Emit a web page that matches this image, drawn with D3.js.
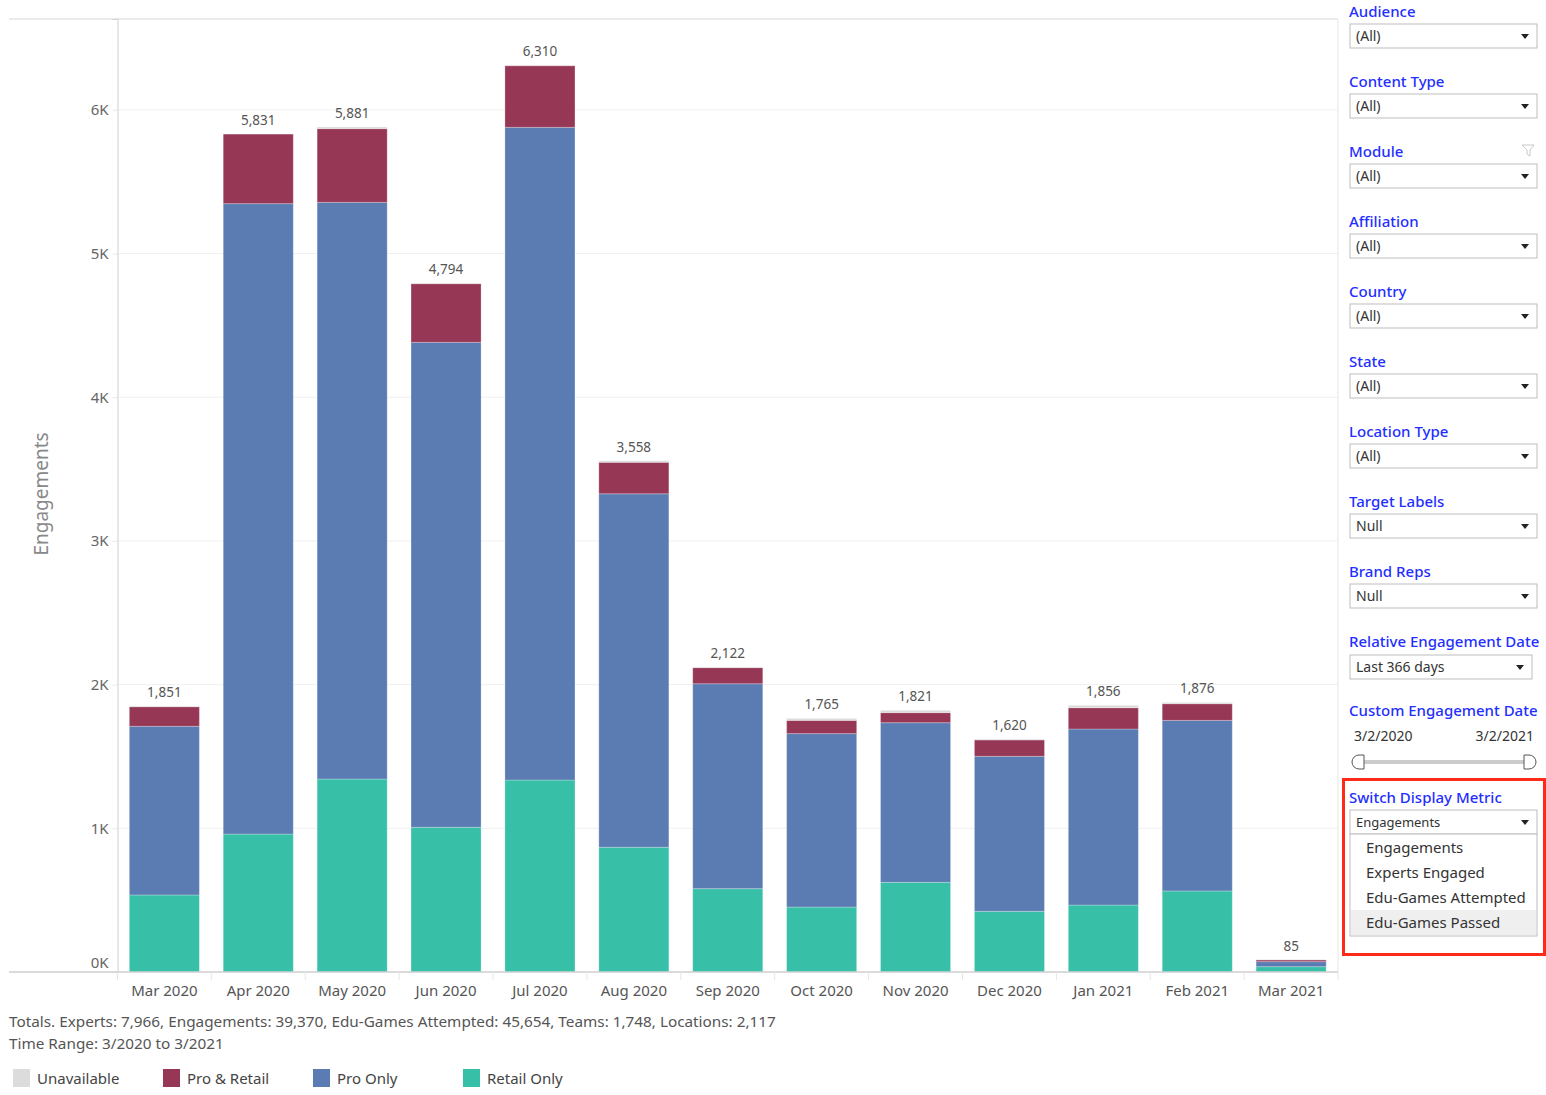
<!DOCTYPE html>
<html>
<head>
<meta charset="utf-8">
<script src="https://cdn.jsdelivr.net/npm/d3@7"></script>
<style>
    body { margin: 0; background: #fff; font-family: "Noto Sans", "Lato", sans-serif; }
    #chart { width: 1546px; height: 1095px; }
</style>
</head>
<body>
<div id="chart"></div>
<script>
// months on the x axis
const months = ["Mar 2020", "Apr 2020", "May 2020", "Jun 2020", "Jul 2020", "Aug 2020", "Sep 2020",
    "Oct 2020", "Nov 2020", "Dec 2020", "Jan 2021", "Feb 2021", "Mar 2021"];

// stacked series (bottom to top)
const retailOnly  = [536, 960, 1343, 1007, 1336, 868, 580, 452, 624, 422, 466, 564, 37];
const proOnly     = [1174, 4387, 4013, 3375, 4542, 2460, 1426, 1207, 1111, 1079, 1225, 1187, 35];
const proRetail   = [136, 484, 513, 408, 429, 219, 112, 92, 70, 114, 148, 116, 12];
const unavailable = [5, 0, 12, 4, 3, 11, 4, 14, 16, 5, 17, 9, 1];

const seriesNames = ["Retail Only", "Pro Only", "Pro & Retail", "Unavailable"];
const legendNames = ["Unavailable", "Pro & Retail", "Pro Only", "Retail Only"];
const yTicks = [0, 1000, 2000, 3000, 4000, 5000, 6000];

// filter panel
const filters = [
    {label: "Audience", value: "(All)"},
    {label: "Content Type", value: "(All)"},
    {label: "Module", value: "(All)"},
    {label: "Affiliation", value: "(All)"},
    {label: "Country", value: "(All)"},
    {label: "State", value: "(All)"},
    {label: "Location Type", value: "(All)"},
    {label: "Target Labels", value: "Null"},
    {label: "Brand Reps", value: "Null"}
];
const metricOptions = ["Engagements", "Experts Engaged", "Edu-Games Attempted", "Edu-Games Passed"];

const colors = {
    "Retail Only": "#38bfa7",
    "Pro Only": "#5b7cb2",
    "Pro & Retail": "#973756",
    "Unavailable": "#dcdcdc"
};
const labelBlue = "#1f2fff";

const svg = d3.select("#chart").append("svg")
    .attr("width", 1546)
    .attr("height", 1095);

// ---- chart ----
const plot = {left: 117.5, right: 1338, top: 19, bottom: 972};

let rows = months.map((m, i) => ({
    month: m,
    "Retail Only": retailOnly[i],
    "Pro Only": proOnly[i],
    "Pro & Retail": proRetail[i],
    "Unavailable": unavailable[i]
}));
rows.forEach(r => r.total = seriesNames.reduce((s, k) => s + r[k], 0));

let x = d3.scaleBand()
    .domain(months)
    .range([plot.left, plot.right])
    .paddingInner(0.254)
    .paddingOuter(0.126);

let y = d3.scaleLinear()
    .domain([0, 6632])
    .range([plot.bottom, plot.top]);

// gridlines
svg.append("g").selectAll("line")
    .data(yTicks.slice(1))
    .join("line")
    .attr("x1", plot.left).attr("x2", plot.right)
    .attr("y1", d => y(d)).attr("y2", d => y(d))
    .attr("stroke", "#f0f0f0");

// frame lines
svg.append("line").attr("x1", 9).attr("x2", plot.right).attr("y1", plot.top).attr("y2", plot.top)
    .attr("stroke", "#d6d6d6");
svg.append("line").attr("x1", plot.right).attr("x2", plot.right).attr("y1", plot.top).attr("y2", plot.bottom)
    .attr("stroke", "#e6e6e6");

// y axis
let yAxis = d3.axisLeft(y)
    .tickValues(yTicks)
    .tickSize(5)
    .tickFormat(d => d3.format(".0f")(d / 1000) + "K");

let yAxisGroup = svg.append("g")
    .attr("transform", `translate(${plot.left},0)`)
    .call(yAxis);
yAxisGroup.select(".domain").attr("stroke", "#d0d0d0");
yAxisGroup.selectAll(".tick line").attr("stroke", "#e8e8e8");
yAxisGroup.selectAll(".tick text")
    .attr("x", -9)
    .attr("dy", d => d === 0 ? "-0.3em" : "0.32em")
    .attr("fill", "#666")
    .style("font-size", "15px")
    .style("font-family", "'Noto Sans', sans-serif");

// y title
svg.append("text")
    .attr("transform", `translate(48, 494) rotate(-90)`)
    .attr("text-anchor", "middle")
    .attr("fill", "#888")
    .style("font-size", "19px")
    .text("Engagements");

// stacked bars
let stack = d3.stack().keys(seriesNames);
let stacked = stack(rows);

svg.append("g").selectAll("g")
    .data(stacked)
    .join("g")
    .attr("fill", d => colors[d.key])
    .selectAll("rect")
    .data(d => d)
    .join("rect")
    .attr("x", d => x(d.data.month))
    .attr("width", x.bandwidth())
    .attr("y", d => y(d[1]))
    .attr("height", d => Math.max(0, y(d[0]) - y(d[1])))
    .attr("stroke", "rgba(255,255,255,0.25)")
    .attr("stroke-width", 1);

// total labels
svg.append("g").selectAll("text")
    .data(rows)
    .join("text")
    .attr("x", d => x(d.month) + x.bandwidth() / 2)
    .attr("y", d => y(d.total) - 9)
    .attr("text-anchor", "middle")
    .attr("fill", "#555")
    .style("font-size", "13.5px")
    .text(d => d3.format(",")(d.total));

// x axis baseline
svg.append("line").attr("x1", 9).attr("x2", plot.right).attr("y1", plot.bottom).attr("y2", plot.bottom)
    .attr("stroke", "#cfcfcf").attr("stroke-width", 1.5);

// category separators below axis
let sepX = months.map(m => x(m) - x.step() * x.paddingInner() / 2);
sepX[0] = plot.left;
svg.append("g").selectAll("line")
    .data(sepX.concat([plot.right]))
    .join("line")
    .attr("x1", d => d).attr("x2", d => d)
    .attr("y1", plot.bottom).attr("y2", plot.bottom + 8)
    .attr("stroke", "#e6e6e6");

svg.append("g").selectAll("text")
    .data(months)
    .join("text")
    .attr("x", d => x(d) + x.bandwidth() / 2)
    .attr("y", 996)
    .attr("text-anchor", "middle")
    .attr("fill", "#555")
    .style("font-size", "15px")
    .text(d => d);

// footer
svg.append("text").attr("x", 9).attr("y", 1027).attr("fill", "#555").style("font-size", "15.3px")
    .text("Totals. Experts: 7,966, Engagements: 39,370, Edu-Games Attempted: 45,654, Teams: 1,748, Locations: 2,117");
svg.append("text").attr("x", 9).attr("y", 1049).attr("fill", "#555").style("font-size", "15.3px")
    .text("Time Range: 3/2020 to 3/2021");

// legend
let legend = svg.append("g").selectAll("g")
    .data(legendNames)
    .join("g")
    .attr("transform", (d, i) => `translate(${13 + i * 150}, 1069)`);
legend.append("rect").attr("width", 17).attr("height", 18).attr("fill", d => colors[d]);
legend.append("text").attr("x", 24).attr("y", 15).attr("fill", "#444").style("font-size", "15px")
    .text(d => d);

// ---- filter panel ----
const px = 1349, boxW = 187;

function dropdown(g, yTop, w, value, size) {
    g.append("rect").attr("x", px + 1).attr("y", yTop).attr("width", w).attr("height", 24)
        .attr("fill", "#fff").attr("stroke", "#bdbdbd");
    g.append("text").attr("x", px + 7).attr("y", yTop + 17).attr("fill", "#333")
        .style("font-size", size + "px").text(value);
    let ax = px + w - 11;
    g.append("path")
        .attr("d", `M${ax - 4},${yTop + 10} L${ax + 4},${yTop + 10} L${ax},${yTop + 15} Z`)
        .attr("fill", "#222");
}

let panel = svg.append("g");
filters.forEach((f, i) => {
    let y0 = 12 + i * 70;
    panel.append("text").attr("x", px).attr("y", y0 + 5).attr("fill", labelBlue)
        .style("font-size", "15px").style("font-weight", 500).text(f.label);
    dropdown(panel, y0 + 12, boxW, f.value, 14);
});

// funnel icon next to Module
panel.append("path")
    .attr("d", "M1522,145 L1534,145 L1530,150 L1530,156 L1527,154 L1527,150 Z")
    .attr("fill", "none").attr("stroke", "#c8c8c8").attr("stroke-width", 1);

// relative date
panel.append("text").attr("x", px).attr("y", 647).attr("fill", labelBlue)
    .style("font-size", "15px").style("font-weight", 500).text("Relative Engagement Date");
dropdown(panel, 655, 182, "Last 366 days", 14);

// custom date
panel.append("text").attr("x", px).attr("y", 716).attr("fill", labelBlue)
    .style("font-size", "15px").style("font-weight", 500).text("Custom Engagement Date");
panel.append("text").attr("x", 1354).attr("y", 741).attr("fill", "#333").style("font-size", "14px").text("3/2/2020");
panel.append("text").attr("x", 1534).attr("y", 741).attr("text-anchor", "end").attr("fill", "#333")
    .style("font-size", "14px").text("3/2/2021");
panel.append("rect").attr("x", 1362).attr("y", 760).attr("width", 164).attr("height", 4).attr("fill", "#cccccc");
panel.append("path").attr("d", "M1364,755 L1359,755 A7,7 0 0 0 1359,769 L1364,769 Z")
    .attr("fill", "#fff").attr("stroke", "#555");
panel.append("path").attr("d", "M1524,755 L1529,755 A7,7 0 0 1 1529,769 L1524,769 Z")
    .attr("fill", "#fff").attr("stroke", "#555");

// switch display metric
panel.append("rect").attr("x", 1343.5).attr("y", 779.5).attr("width", 201).attr("height", 175)
    .attr("fill", "none").attr("stroke", "#ff2a1a").attr("stroke-width", 3);
panel.append("text").attr("x", px).attr("y", 803).attr("fill", labelBlue)
    .style("font-size", "15px").style("font-weight", 500).text("Switch Display Metric");
dropdown(panel, 810, boxW, "Engagements", 13);
panel.append("rect").attr("x", px + 1).attr("y", 834).attr("width", boxW).attr("height", 102)
    .attr("fill", "#fff").attr("stroke", "#bdbdbd");
panel.append("rect").attr("x", px + 2).attr("y", 910).attr("width", boxW - 2).attr("height", 25)
    .attr("fill", "#efefef");
panel.selectAll(".opt")
    .data(metricOptions)
    .join("text")
    .attr("class", "opt")
    .attr("x", 1366)
    .attr("y", (d, i) => 853 + i * 25)
    .attr("fill", "#333")
    .style("font-size", "15px")
    .text(d => d);
</script>
</body>
</html>
